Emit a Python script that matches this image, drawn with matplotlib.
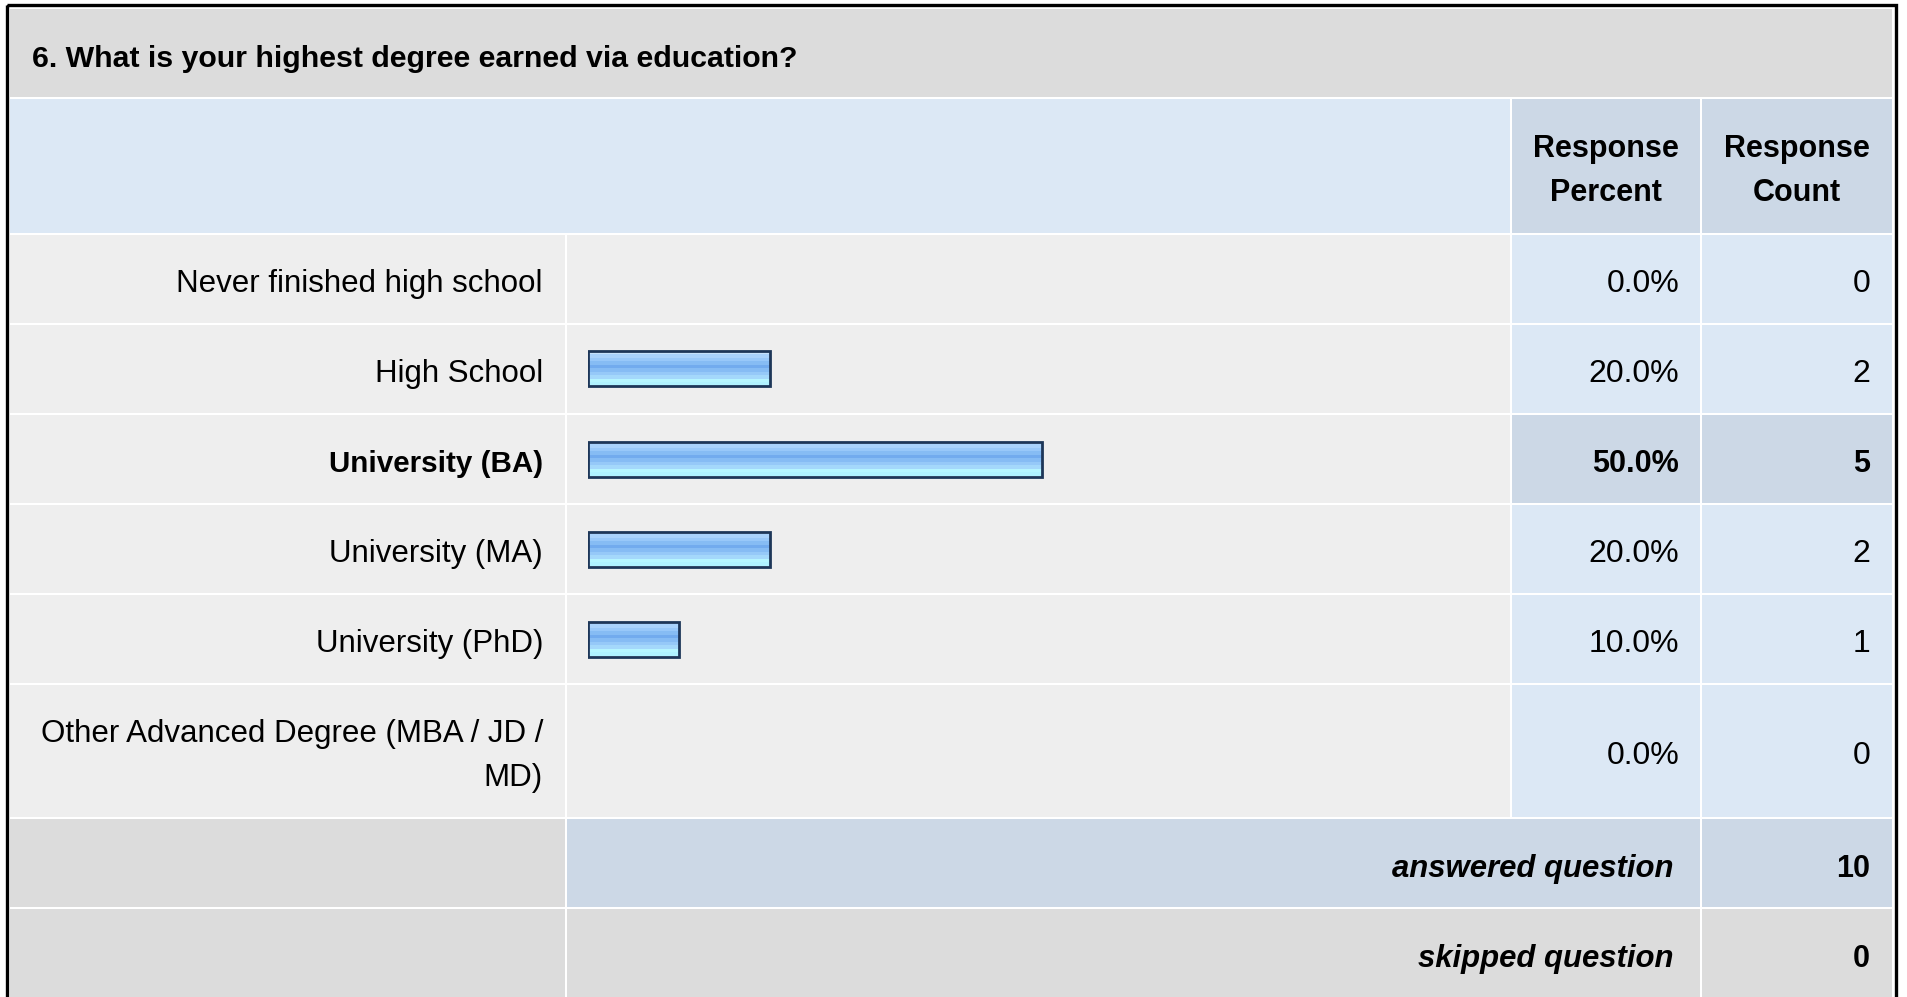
import numpy as np
import matplotlib.pyplot as plt
from matplotlib.patches import Rectangle
from matplotlib.colors import to_rgb

plt.rcParams['font.family'] = ['Liberation Sans', 'DejaVu Sans']

# Data
title = "6. What is your highest degree earned via education?"
categories = [
    "Never finished high school",
    "High School",
    "University (BA)",
    "University (MA)",
    "University (PhD)",
    "Other Advanced Degree (MBA / JD /\nMD)",
]
percents = [0.0, 20.0, 50.0, 20.0, 10.0, 0.0]
counts = [0, 2, 5, 2, 1, 0]
answered = 10
skipped = 0
highlight = 2  # the row drawn bold

# -----------------------------
# Layout (pixels)
# -----------------------------
W, H = 1907, 997
GAP = 2
X_LEFT, X_BAR, X_PCT, X_CNT, X_RIGHT = 10, 567, 1512, 1702, 1892
TITLE_Y = (9, 97)
HEAD_Y = (99, 233)
row_heights = [88, 88, 88, 88, 88, 132]
FOOT_H = 88
TXT_DY = 5  # text sits a little below the cell middle

C_TITLE = "#dcdcdc"
C_HEAD = "#dce8f5"
C_HEAD_DARK = "#ccd8e6"
C_ROW = "#eeeeee"
C_VAL = "#dce8f5"

fig = plt.figure(figsize=(W / 100, H / 100), dpi=100)
ax = fig.add_axes([0, 0, 1, 1])
ax.set_xlim(0, W)
ax.set_ylim(H, 0)
ax.axis("off")


def cell(x0, x1, y0, y1, color):
    ax.add_patch(Rectangle((x0, y0), x1 - x0, y1 - y0, facecolor=color,
                           edgecolor="none", zorder=1))


# title band
cell(X_LEFT, X_RIGHT, TITLE_Y[0], TITLE_Y[1], C_TITLE)
ax.text(32, sum(TITLE_Y) / 2 + 6, title, fontsize=21.8, fontweight="bold",
        ha="left", va="center", zorder=3)

# header
cell(X_LEFT, X_PCT - GAP, HEAD_Y[0], HEAD_Y[1], C_HEAD)
cell(X_PCT, X_CNT - GAP, HEAD_Y[0], HEAD_Y[1], C_HEAD_DARK)
cell(X_CNT, X_RIGHT, HEAD_Y[0], HEAD_Y[1], C_HEAD_DARK)
hy = sum(HEAD_Y) / 2 + 5
ax.text((X_PCT + X_CNT - GAP) / 2, hy, "Response\nPercent", fontsize=22,
        fontweight="bold", ha="center", va="center", linespacing=1.62, zorder=3)
ax.text((X_CNT + X_RIGHT) / 2, hy, "Response\nCount", fontsize=22,
        fontweight="bold", ha="center", va="center", linespacing=1.62, zorder=3)

# data rows
y = HEAD_Y[1] + GAP
row_tops = []
for i, (lab, p, c) in enumerate(zip(categories, percents, counts)):
    h = row_heights[i]
    row_tops.append(y)
    bold = i == highlight
    val_color = C_HEAD_DARK if bold else C_VAL
    weight = "bold" if bold else "normal"
    fs_lab = 21.3 if bold else 22.5
    fs_val = 22 if bold else 23
    cell(X_LEFT, X_BAR - GAP, y, y + h, C_ROW)
    cell(X_BAR, X_PCT - GAP, y, y + h, C_ROW)
    cell(X_PCT, X_CNT - GAP, y, y + h, val_color)
    cell(X_CNT, X_RIGHT, y, y + h, val_color)
    yc = y + h / 2 + TXT_DY
    ax.text(X_BAR - GAP - 22, yc, lab, fontsize=fs_lab, fontweight=weight,
            ha="right", va="center", multialignment="right",
            linespacing=1.62, zorder=3)
    ax.text(X_CNT - GAP - 21, yc, f"{p:.1f}%", fontsize=fs_val,
            fontweight=weight, ha="right", va="center", zorder=3)
    ax.text(X_RIGHT - 22, yc, f"{c}", fontsize=fs_val, fontweight=weight,
            ha="right", va="center", zorder=3)
    y += h + GAP

# footer rows
foot = [("answered question", answered, C_HEAD_DARK),
        ("skipped question", skipped, C_TITLE)]
for lab, v, col in foot:
    cell(X_LEFT, X_BAR - GAP, y, y + FOOT_H, C_TITLE)
    cell(X_BAR, X_CNT - GAP, y, y + FOOT_H, col)
    cell(X_CNT, X_RIGHT, y, y + FOOT_H, col)
    yc = y + FOOT_H / 2 + TXT_DY + 1
    ax.text(X_CNT - GAP - 27, yc, lab, fontsize=22.4, fontweight="bold",
            fontstyle="italic", ha="right", va="center", zorder=3)
    ax.text(X_RIGHT - 22, yc, f"{v}", fontsize=22, fontweight="bold",
            ha="right", va="center", zorder=3)
    y += FOOT_H + GAP

# outer border
ax.add_patch(Rectangle((7, 5.5), 1895.5 - 7, H + 10, facecolor="none",
                       edgecolor="black", linewidth=2.4, zorder=4,
                       clip_on=False))

# -----------------------------
# Bars (own axes, 0-100 %)
# -----------------------------
n_uniform = 5
bar_x0, bar_x1 = 588, 1496
bar_y0 = row_tops[0] - GAP / 2
bar_y1 = bar_y0 + n_uniform * (row_heights[0] + GAP)
bax = fig.add_axes([bar_x0 / W, 1 - bar_y1 / H, (bar_x1 - bar_x0) / W,
                    (bar_y1 - bar_y0) / H])
bax.axis("off")
bax.patch.set_alpha(0)

grad_stops = ["#c6e2fb", "#a9d2fb", "#98c8f9", "#86bcf4", "#72abee",
              "#86bcf4", "#96c9f8", "#a4d8fb", "#b6f6ff", "#b0f2ff"]
grad = np.array([to_rgb(c) for c in grad_stops])[:, None, :]

bar_h = 35 / 90
ypos = np.arange(len(categories))
bars = bax.barh(ypos, percents, height=bar_h, facecolor="none",
                edgecolor="#1d3658", linewidth=2.0, zorder=3)
for b, p, yy in zip(bars, percents, ypos):
    if p <= 0:
        b.set_visible(False)
        continue
    img = bax.imshow(grad, extent=[0, p, yy + bar_h / 2, yy - bar_h / 2],
                     origin="upper", aspect="auto", interpolation="nearest",
                     zorder=2)
    img.set_clip_path(b)

bax.set_xlim(0, 100)
bax.set_ylim(n_uniform - 0.5, -0.5)

fig.savefig("out.png", dpi=100)
